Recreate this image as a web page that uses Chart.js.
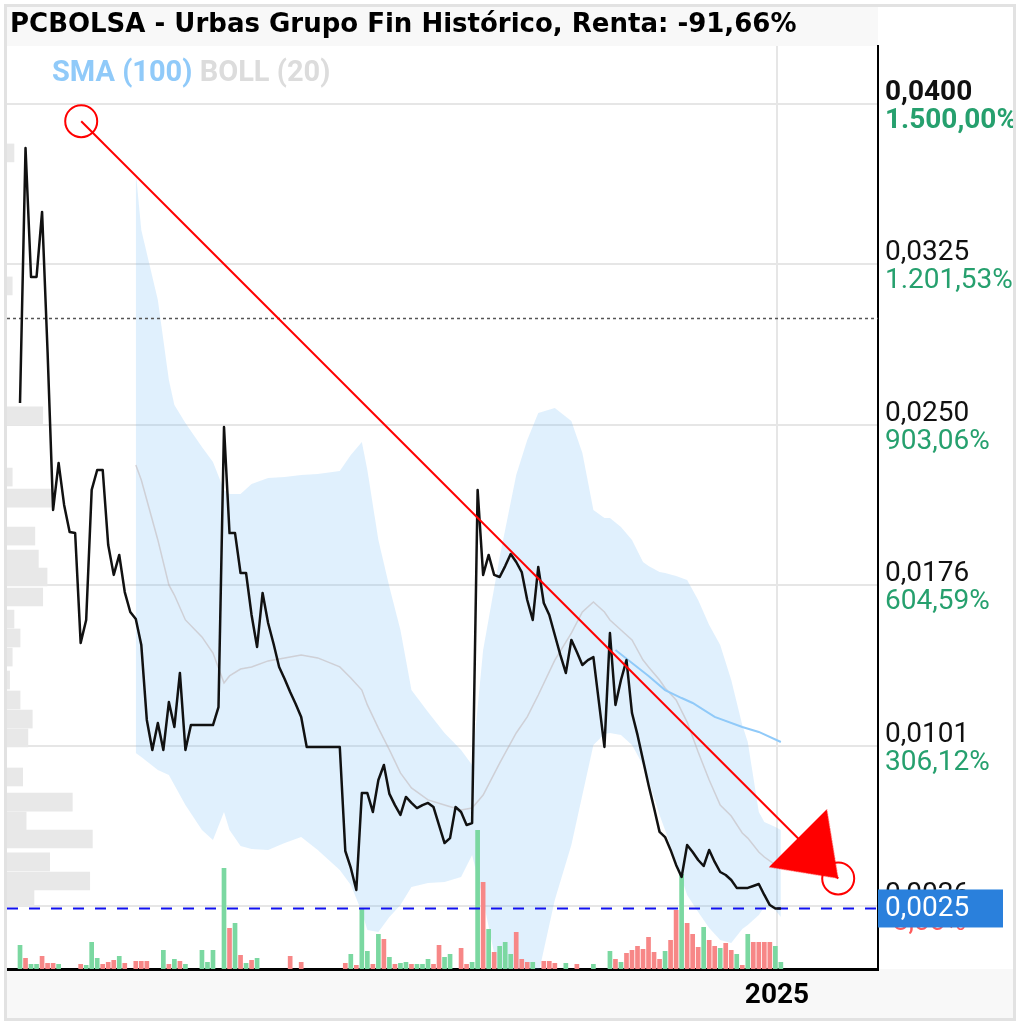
<!DOCTYPE html>
<html>
<head>
<meta charset="utf-8">
<title>PCBOLSA - Urbas Grupo Fin Histórico</title>
<script src="https://cdn.jsdelivr.net/npm/chart.js@4.4.1/dist/chart.umd.min.js"></script>
<style>
  body { margin: 0; background: #fff; }
  #frame { position: absolute; left: 4px; top: 4px; width: 1012px; height: 1017px; box-sizing: border-box; border: 3px solid #e2e2e2; overflow: hidden; }
  #titleBar { position: absolute; left: 0; top: 0; width: 871px; height: 39px; background: #f8f8f8; }
  #title { position: absolute; left: 3px; top: 1px; line-height: 39px; font: bold 26px "DejaVu Sans", sans-serif; color: #000; white-space: nowrap; }
  #bottomBar { position: absolute; left: 0; top: 962px; width: 100%; height: 60px; background: #f8f8f8; }
  #chart { position: absolute; left: -7px; top: -7px; }
  #indicators { position: absolute; left: 45px; top: 47px; line-height: 38px; font: bold 29px Roboto, sans-serif; white-space: nowrap; }
</style>
</head>
<body>
<div id="frame">
  <div id="titleBar"></div>
  <div id="bottomBar"></div>
  <canvas id="chart" width="1020" height="1025"></canvas>
  <div id="title">PCBOLSA - Urbas Grupo Fin Histórico, Renta: -91,66%</div>
  <div id="indicators"><span style="color:#90caf9">SMA (100)</span> <span style="color:#dcdcdc">BOLL (20)</span></div>
</div>
<script>
// closing prices, one per session (index 0..138)
const closePrices = [
  0.02606, 0.03795, 0.03194, 0.03194, 0.03497, 0.02844, 0.02108, 0.02327, 0.02131, 0.02005,
  0.02000, 0.01488, 0.01595, 0.02201, 0.02294, 0.02294, 0.01944, 0.01805, 0.01898, 0.01725,
  0.01632, 0.01599, 0.01478, 0.01129, 0.00989, 0.01115, 0.00989, 0.01212, 0.01096, 0.01348,
  0.00989, 0.01105, 0.01105, 0.01105, 0.01105, 0.01105, 0.01189, 0.02494, 0.02000, 0.02000,
  0.01814, 0.01814, 0.01618, 0.01469, 0.01721, 0.01581, 0.01483, 0.01376, 0.01320, 0.01259,
  0.01203, 0.01143, 0.01003, 0.01003, 0.01003, 0.01003, 0.01003, 0.01003, 0.01003, 0.00518,
  0.00439, 0.00336, 0.00788, 0.00788, 0.00700, 0.00849, 0.00919, 0.00784, 0.00732, 0.00686,
  0.00770, 0.00742, 0.00718, 0.00732, 0.00742, 0.00723, 0.00639, 0.00555, 0.00578, 0.00723,
  0.00700, 0.00639, 0.00648, 0.02201, 0.01805, 0.01898, 0.01805, 0.01795, 0.01846, 0.01902,
  0.01865, 0.01818, 0.01688, 0.01595, 0.01842, 0.01674, 0.01618, 0.01525, 0.01432, 0.01348,
  0.01502, 0.01446, 0.01385, 0.01408, 0.01422, 0.01212, 0.01003, 0.01534, 0.01199, 0.01315,
  0.01408, 0.01161, 0.01059, 0.00942, 0.00826, 0.00718, 0.00607, 0.00583, 0.00523, 0.00453,
  0.00397, 0.00546, 0.00513, 0.00476, 0.00448, 0.00523, 0.00467, 0.00420, 0.00406, 0.00383,
  0.00346, 0.00346, 0.00346, 0.00355, 0.00364, 0.00313, 0.00266, 0.00250, 0.00250
];

// volume in thousands of shares, and whether the session closed up (1) or down (0)
const volumesK = [
  24, 11, 5, 5, 13, 6, 6, 5, 0, 0,
  0, 5, 4, 27, 11, 5, 7, 9, 13, 6,
  0, 8, 8, 8, 0, 0, 19, 5, 10, 8,
  5, 0, 0, 19, 7, 19, 0, 101, 41, 46,
  14, 6, 9, 11, 0, 0, 0, 0, 0, 13,
  0, 7, 0, 0, 0, 0, 0, 0, 0, 6,
  15, 4, 60, 18, 5, 35, 30, 12, 5, 6,
  7, 5, 5, 5, 10, 5, 24, 12, 15, 0,
  21, 5, 7, 139, 87, 40, 17, 23, 27, 15,
  37, 10, 7, 7, 0, 8, 8, 6, 0, 6,
  0, 5, 0, 0, 5, 0, 0, 18, 10, 7,
  16, 19, 23, 20, 32, 17, 10, 18, 29, 59,
  95, 46, 35, 22, 42, 29, 23, 21, 26, 19,
  15, 4, 35, 27, 27, 27, 27, 23, 7
];
const volumeUp = [
  1,0,1,1,0,0,0,1,0,0,
  0,0,1,1,1,0,0,0,1,0,
  0,0,0,0,0,0,1,0,1,0,
  1,0,0,1,1,1,0,1,0,1,
  0,1,0,1,0,0,0,0,0,0,
  0,0,0,0,0,0,0,0,0,0,
  1,0,1,1,0,1,0,1,0,1,
  1,0,1,1,1,0,0,1,1,0,
  0,0,1,1,0,1,0,1,1,1,
  0,0,0,1,0,0,0,0,0,1,
  0,0,0,0,1,0,0,1,0,1,
  0,0,0,0,0,0,0,1,0,0,
  1,0,0,0,1,0,0,1,0,0,
  1,0,1,0,0,0,0,1,1
];

// Bollinger (20) bands, read at these session indices
const bandIdx = [21, 22, 25, 27, 28, 30, 33, 35, 37, 38, 40, 42, 45, 48, 51, 54, 58, 60, 62, 63,
  65, 67, 69, 71, 74, 77, 80, 82, 84, 87, 90, 92, 94, 97, 100, 102, 104, 106, 107, 109,
  111, 113, 114, 116, 117, 119, 121, 123, 125, 127, 129, 131, 132, 134, 135, 137, 138];
const bandUpper = [0.03683, 0.03413, 0.03086, 0.02714, 0.02597, 0.02513, 0.02401, 0.02331, 0.02201, 0.02182,
  0.02182, 0.02229, 0.02257, 0.02261, 0.02271, 0.02275, 0.02289, 0.02364, 0.02424, 0.02294,
  0.01968, 0.01749, 0.01548, 0.01268, 0.01166, 0.01068, 0.00989, 0.00919, 0.01455, 0.01888,
  0.02271, 0.02434, 0.02560, 0.02583, 0.02522, 0.02373, 0.02108, 0.02070, 0.02070, 0.02028,
  0.01968, 0.01865, 0.01846, 0.01818, 0.01814, 0.01800, 0.01781, 0.01688, 0.01571, 0.01478,
  0.01315, 0.01105, 0.01026, 0.00700, 0.00653, 0.00630, 0.00616];
const bandLower = [0.00975, 0.00956, 0.00896, 0.00872, 0.00826, 0.00732, 0.00616, 0.00569, 0.00700, 0.00616,
  0.00541, 0.00527, 0.00523, 0.00555, 0.00583, 0.00523, 0.00429, 0.00360, 0.00234, 0.00150,
  0.00140, 0.00210, 0.00266, 0.00350, 0.00369, 0.00373, 0.00397, 0.00499, 0.00290, -0.00083,
  -0.00223, -0.00177, -0.00060, 0.00290, 0.00546, 0.00779, 0.01012, 0.01063, 0.01068, 0.01059,
  0.01012, 0.00919, 0.00849, 0.00686, 0.00616, 0.00467, 0.00313, 0.00234, 0.00159, 0.00103,
  0.00089, 0.00154, 0.00173, 0.00220, 0.00257, 0.00243, 0.00210];
const bandMid = [0.02317, 0.02247, 0.01968, 0.01758, 0.01711, 0.01595, 0.01516, 0.01441, 0.01301, 0.01334,
  0.01366, 0.01376, 0.01404, 0.01418, 0.01432, 0.01418, 0.01376, 0.01324, 0.01268, 0.01199,
  0.01091, 0.00989, 0.00882, 0.00812, 0.00756, 0.00732, 0.00709, 0.00718, 0.00779, 0.00928,
  0.01068, 0.01143, 0.01245, 0.01408, 0.01534, 0.01632, 0.01679, 0.01632, 0.01595, 0.01548,
  0.01502, 0.01408, 0.01376, 0.01315, 0.01278, 0.01222, 0.01119, 0.00979, 0.00849, 0.00732,
  0.00681, 0.00602, 0.00578, 0.00513, 0.00490, 0.00453, 0.00443];

// SMA (100)
const smaIdx = [108, 111, 114, 117, 120, 122, 126, 131, 134, 138];
const smaValues = [0.01455, 0.01394, 0.01334, 0.01268, 0.01231, 0.01208, 0.01143, 0.01096, 0.01073, 0.01026];

// volume profile (price level -> traded volume)
const profileLevels = [0.03772, 0.03152, 0.02546, 0.02261, 0.02163, 0.01986, 0.01879, 0.01795, 0.01702, 0.01599,
  0.01511, 0.01422, 0.01315, 0.01222, 0.01133, 0.01045, 0.00863, 0.00746, 0.00658, 0.00574,
  0.00467, 0.00378, 0.00303];
const profileVolumes = [8, 6, 41, 6, 53, 32, 36, 46, 41, 8,
  15, 6, 3, 15, 29, 24, 18, 75, 22, 98,
  49, 95, 31];

// drawn trend line (session index, price)
const trendIdx = [11.1, 148.4];
const trendPrices = [0.0392, 0.0039];

const startPrice = 0.0300;
const lastPrice = 0.0025;

// right axis
const yTickValues = [0.0400, 0.03252, 0.02505, 0.01757, 0.01009, 0.00262];
const yTickPrices = ['0,0400', '0,0325', '0,0250', '0,0176', '0,0101', '0,0026'];
const yTickPercents = ['1.500,00%', '1.201,53%', '903,06%', '604,59%', '306,12%', '-8,00%'];

// bottom axis
const yearTickValue = 137.3;
const yearLabel = '2025';

const xMin = -2.36, xMax = 155.62;
const yMin = -0.000321, yMax = 0.042704;

// arrow head used as point style at the end of the trend line
function makeArrowHead() {
  const c = document.createElement('canvas');
  c.width = 140;
  c.height = 140;
  const g = c.getContext('2d');
  g.fillStyle = '#ff0000';
  g.beginPath();
  g.moveTo(70, 70);
  g.lineTo(13, 29);
  g.lineTo(13, 111);
  g.closePath();
  g.fill();
  return c;
}

const rightLabels = {
  id: 'rightLabels',
  afterDraw(chart) {
    const ctx = chart.ctx;
    const y = chart.scales.y;
    const area = chart.chartArea;
    const x0 = area.right + 7;
    ctx.save();
    ctx.textAlign = 'left';
    ctx.textBaseline = 'alphabetic';
    for (let i = 0; i < yTickValues.length; i++) {
      const py = y.getPixelForValue(yTickValues[i]);
      const weight = i === 0 ? 'bold ' : '';
      ctx.font = weight + '28px Roboto';
      ctx.fillStyle = '#111';
      ctx.fillText(yTickPrices[i], x0, py - 4);
      ctx.fillStyle = yTickPercents[i].charAt(0) === '-' ? '#ff5b5b' : '#26a06e';
      ctx.fillText(yTickPercents[i], x0, py + 24);
    }
    // last price marker
    const ly = y.getPixelForValue(lastPrice);
    ctx.fillStyle = '#2a80dc';
    ctx.fillRect(area.right, ly - 19, 125, 38);
    ctx.fillStyle = '#fff';
    ctx.font = '28px Roboto';
    ctx.textBaseline = 'middle';
    ctx.fillText(lastPrice.toFixed(4).replace('.', ','), x0, ly + 1);
    ctx.restore();
  }
};

const pricePoints = closePrices.map((p, i) => ({ x: i, y: p }));
const volumePoints = volumesK.map((v, i) => ({ x: i, y: v }));
const volumeColors = volumeUp.map(u => u ? '#7bd8a1' : '#f78787');

const ctx = document.getElementById('chart').getContext('2d');
new Chart(ctx, {
  type: 'line',
  data: {
    datasets: [
      {
        label: 'Precio',
        data: pricePoints,
        borderColor: '#111',
        borderWidth: 2.5,
        borderJoinStyle: 'round',
        pointRadius: 0,
        tension: 0,
        order: 2
      },
      {
        label: 'BOLL sup',
        data: bandIdx.map((x, i) => ({ x: x, y: bandUpper[i] })),
        borderWidth: 0,
        borderColor: 'rgba(0,0,0,0)',
        pointRadius: 0,
        fill: false,
        order: 9
      },
      {
        label: 'BOLL inf',
        data: bandIdx.map((x, i) => ({ x: x, y: bandLower[i] })),
        borderWidth: 0,
        borderColor: 'rgba(0,0,0,0)',
        backgroundColor: 'rgba(100,181,246,0.2)',
        pointRadius: 0,
        fill: '-1',
        order: 9
      },
      {
        label: 'BOLL media',
        data: bandIdx.map((x, i) => ({ x: x, y: bandMid[i] })),
        borderColor: 'rgba(190,176,176,0.5)',
        borderWidth: 1.5,
        pointRadius: 0,
        order: 8
      },
      {
        label: 'SMA (100)',
        data: smaIdx.map((x, i) => ({ x: x, y: smaValues[i] })),
        borderColor: '#90caf9',
        borderWidth: 2,
        pointRadius: 0,
        order: 6
      },
      {
        type: 'bar',
        label: 'Volumen',
        data: volumePoints,
        yAxisID: 'yv',
        backgroundColor: volumeColors,
        barPercentage: 0.85,
        categoryPercentage: 1,
        grouped: false,
        order: 7
      },
      {
        type: 'bar',
        label: 'Perfil',
        indexAxis: 'y',
        xAxisID: 'xp',
        yAxisID: 'y',
        data: profileLevels.map((p, i) => ({ x: profileVolumes[i], y: p })),
        backgroundColor: '#e8e8e8',
        barThickness: 18,
        grouped: false,
        order: 10
      },
      {
        label: 'Inicio',
        data: [{ x: xMin, y: startPrice }, { x: xMax, y: startPrice }],
        borderColor: '#555',
        borderWidth: 1.5,
        borderDash: [3, 3],
        pointRadius: 0,
        order: 5
      },
      {
        label: 'Último',
        data: [{ x: xMin, y: lastPrice }, { x: xMax, y: lastPrice }],
        borderColor: '#1010f0',
        borderWidth: 2,
        borderDash: [11, 11],
        pointRadius: 0,
        order: 4
      },
      {
        label: 'Tendencia',
        data: trendIdx.map((x, i) => ({ x: x, y: trendPrices[i] })),
        borderColor: '#ff0000',
        borderWidth: 2,
        pointStyle: 'circle',
        pointRadius: 16,
        pointBorderColor: '#ff0000',
        pointBorderWidth: 2,
        pointBackgroundColor: 'rgba(0,0,0,0)',
        order: 1
      },
      {
        label: 'Flecha',
        data: [{ x: trendIdx[1], y: trendPrices[1] }],
        showLine: false,
        pointStyle: makeArrowHead(),
        pointRotation: 45,
        pointRadius: 5,
        order: 0
      }
    ]
  },
  options: {
    responsive: false,
    animation: false,
    devicePixelRatio: 1,
    layout: { autoPadding: false, padding: { left: 7, top: 46, right: 142, bottom: 0 } },
    plugins: {
      legend: { display: false },
      tooltip: { enabled: false },
      title: { display: false }
    },
    scales: {
      x: {
        type: 'linear',
        min: xMin,
        max: xMax,
        offset: false,
        afterBuildTicks: s => { s.ticks = [{ value: yearTickValue }]; },
        afterFit: s => { s.height = 56; s.paddingLeft = 0; s.paddingRight = 0; },
        grid: { color: '#e6e6e6', lineWidth: 2, drawTicks: false, offset: false },
        border: { display: true, color: '#000', width: 3 },
        ticks: {
          autoSkip: false,
          maxRotation: 0,
          padding: 10,
          color: '#000',
          font: { family: 'Roboto', size: 28, weight: 'bold' },
          callback: v => (v === yearTickValue ? yearLabel : '')
        }
      },
      y: {
        type: 'linear',
        position: 'right',
        min: yMin,
        max: yMax,
        offset: false,
        afterBuildTicks: s => { s.ticks = yTickValues.map(v => ({ value: v })); },
        afterFit: s => { s.width = 0; s.paddingTop = 0; s.paddingBottom = 0; },
        grid: { color: '#e6e6e6', lineWidth: 2, drawTicks: false, offset: false },
        border: { display: true, color: '#000', width: 2 },
        ticks: { display: false }
      },
      yv: {
        type: 'linear',
        axis: 'y',
        display: false,
        min: 0,
        max: 923,
        offset: false,
        grid: { offset: false }
      },
      xp: {
        type: 'linear',
        axis: 'x',
        display: false,
        min: 0,
        max: 1000,
        offset: false,
        grid: { offset: false }
      }
    }
  },
  plugins: [rightLabels]
});
</script>
</body>
</html>
